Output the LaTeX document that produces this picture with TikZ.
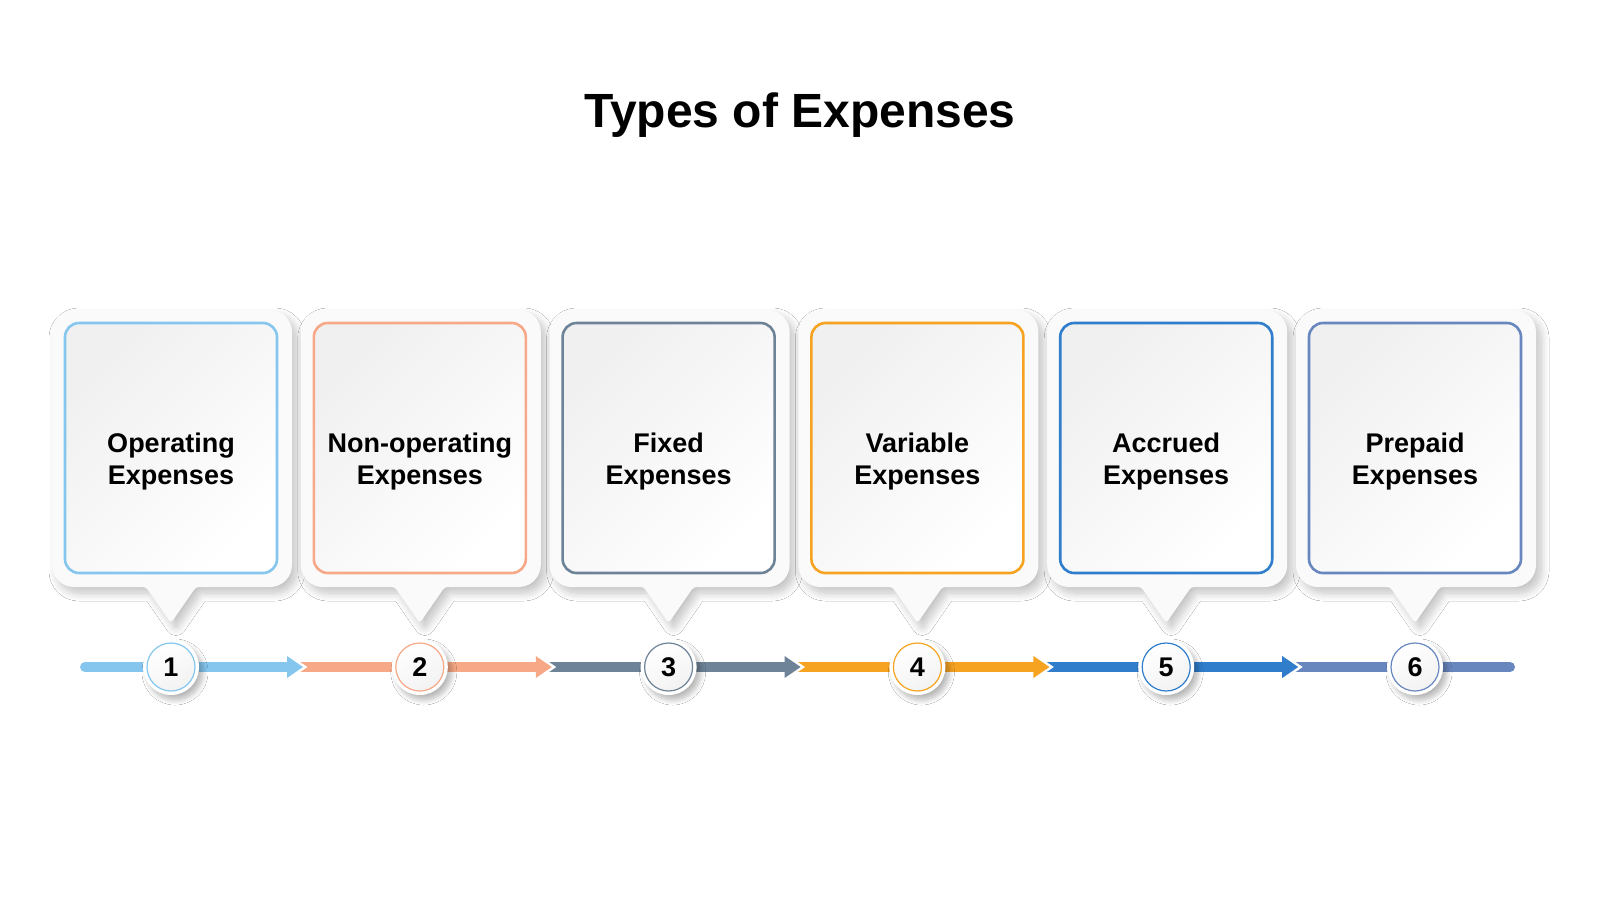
\documentclass[tikz,border=0pt]{standalone}
\usepackage{fontspec}
\setmainfont{Liberation Sans}
\usetikzlibrary{shadows.blur}
\definecolor{cA}{HTML}{85C6EF}
\definecolor{cB}{HTML}{F7A886}
\definecolor{cC}{HTML}{6E8398}
\definecolor{cD}{HTML}{F5A321}
\definecolor{cE}{HTML}{2F7DCB}
\definecolor{cF}{HTML}{6887BF}
\definecolor{boxbg}{HTML}{FAFAFA}
\begin{document}
\begin{tikzpicture}[x=0.5pt,y=-0.5pt,
  outerbox/.style={fill=boxbg, blur shadow={shadow xshift=2.5pt, shadow yshift=-3pt, shadow blur radius=4pt, shadow blur steps=10, shadow opacity=24}},
  innerbox/.style={line width=1.3pt, rounded corners=7pt, top color=black!6, bottom color=white, shading angle=45},
  boxtext/.style={font=\bfseries\fontsize{13.5}{16}\selectfont, align=center, text=black},
  numcircle/.style={circle, fill=white, minimum size=28pt, inner sep=0pt, blur shadow={shadow xshift=2pt, shadow yshift=-2.5pt, shadow blur radius=2.5pt, shadow blur steps=8, shadow opacity=28}},
  numtext/.style={font=\bfseries\fontsize{13.5}{16}\selectfont, text=black},
  shaft/.style={line width=5pt},
  halo/.style={white, line width=2.5pt, line join=miter}
]
\fill[white] (0,0) rectangle (1600,900);
\useasboundingbox (0,0) rectangle (1600,900);
\node[font=\bfseries\fontsize{24}{28}\selectfont, anchor=base] (title) at (800,127) {Types of Expenses};

% boxes
\foreach \i/\col/\txt in {1/cA/{Operating\\Expenses}, 2/cB/{Non-operating\\Expenses}, 3/cC/{Fixed\\Expenses}, 4/cD/{Variable\\Expenses}, 5/cE/{Accrued\\Expenses}, 6/cF/{Prepaid\\Expenses}}{
  \pgfmathsetmacro\c{171+248.8*(\i-1)}
  \path[outerbox] (\c,310) [rounded corners=11pt] -- (\c+121,310) -- (\c+121,587) [rounded corners=1.5pt] -- (\c+25,587) -- (\c,623) -- (\c-25,587) [rounded corners=11pt] -- (\c-119,587) -- (\c-119,310) -- cycle;
  \path[innerbox, draw=\col] (\c-106,323) rectangle (\c+106,573);
  \node[boxtext] (lab\i) at (\c,462) {\txt};
}

% line coordinates
\coordinate (s1) at (85,667);
\foreach \i in {1,...,5}{
  \pgfmathsetmacro\t{171+248.8*(\i-1)+132}
  \coordinate (t\i) at (\t,667);
  \coordinate (e\i) at (\t-14,667);
  \coordinate (b\i u) at (\t-16,656);
  \coordinate (b\i d) at (\t-16,678);
  \pgfmathtruncatemacro\j{\i+1}
  \coordinate (s\j) at (\t-8,667);
}
\coordinate (e6) at (1510,667);

% shafts
\draw[shaft, cA, line cap=round] (s1) -- (e1);
\draw[shaft, cB] (s2) -- (e2);
\draw[shaft, cC] (s3) -- (e3);
\draw[shaft, cD] (s4) -- (e4);
\draw[shaft, cE] (s5) -- (e5);
\draw[shaft, cF, line cap=round] (s6) -- (e6);

% arrowheads
\foreach \i/\col in {1/cA, 2/cB, 3/cC, 4/cD, 5/cE}{
  \draw[halo] (b\i u) -- (t\i) -- (b\i d);
  \fill[\col] (b\i u) -- (t\i) -- (b\i d) -- cycle;
}

% numbered circles
\foreach \i/\col in {1/cA, 2/cB, 3/cC, 4/cD, 5/cE, 6/cF}{
  \pgfmathsetmacro\c{171+248.8*(\i-1)}
  \node[numcircle] (n\i) at (\c,667) {};
  \path[draw=\col, line width=0.6pt, top color=white, bottom color=black!5, shading angle=30] (n\i.center) circle[radius=24];
  \node[numtext] (k\i) at (n\i.center) {\i};
}
\end{tikzpicture}
\end{document}
